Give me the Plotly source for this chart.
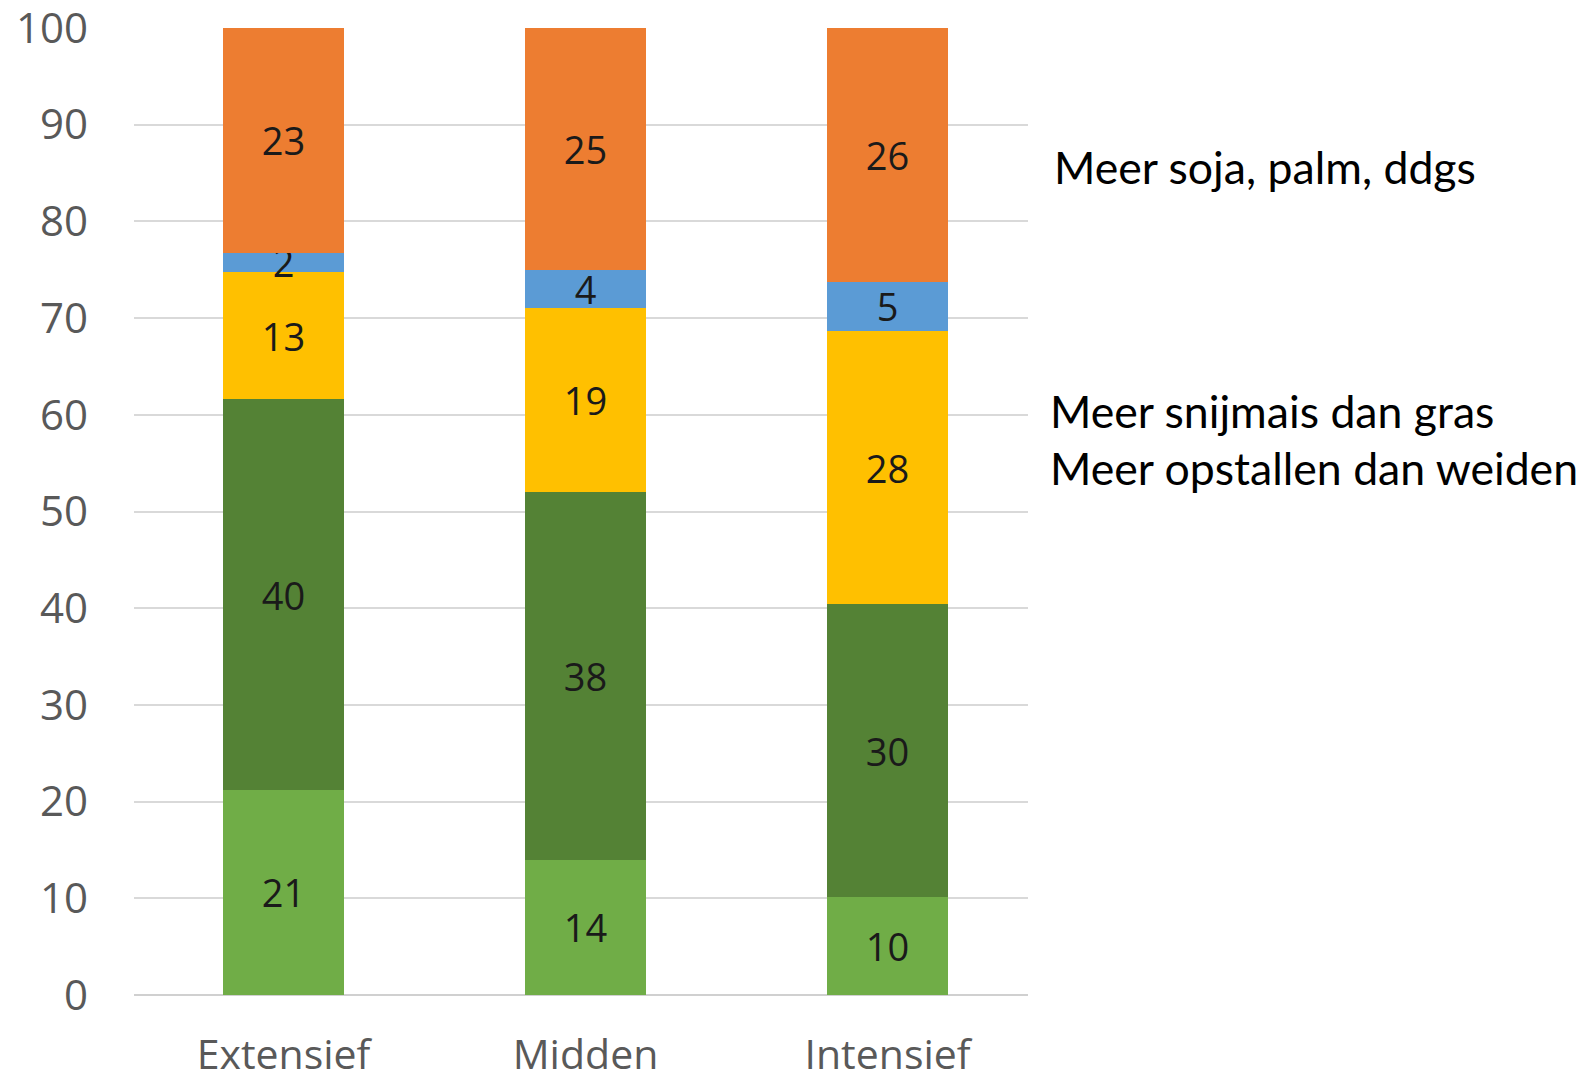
import plotly.graph_objects as go

# ---------- Data ----------
categories = ["Extensief", "Midden", "Intensief"]

series_names = ["Gras (licht)", "Gras (donker)", "Snijmais", "Overig", "Krachtvoer"]
light_green = [21, 14, 10]
dark_green = [40, 38, 30]
yellow = [13, 19, 28]
blue = [2, 4, 5]
orange = [23, 25, 26]

series_values = [light_green, dark_green, yellow, blue, orange]
series_colors = ["#70AD47", "#548235", "#FFC000", "#5B9BD5", "#ED7D31"]

y_ticks = list(range(0, 101, 10))

notes = ["Meer soja, palm, ddgs", "Meer snijmais dan gras", "Meer opstallen dan weiden"]

# ---------- Figure ----------
# page body has an 8px margin, so the plot area is shifted by that amount
W, H = 1589, 1076
ML, MR, MT, MB = 126, 569, 20, 89

fig = go.Figure()
for name, vals, col in zip(series_names, series_values, series_colors):
    fig.add_trace(go.Bar(
        x=categories,
        y=vals,
        name=name,
        marker=dict(color=col, line=dict(width=0)),
        text=[str(v) for v in vals],
        textposition="inside",
        insidetextanchor="middle",
        textangle=0,
        textfont=dict(family="Open Sans", size=38, color="#1a1a1a"),
        hoverinfo="skip",
    ))

fig.update_layout(
    width=W,
    height=H,
    barmode="stack",
    barnorm="percent",
    bargap=0.6,
    showlegend=False,
    plot_bgcolor="white",
    paper_bgcolor="white",
    margin=dict(l=ML, r=MR, t=MT, b=MB, autoexpand=False),
    uniformtext=dict(minsize=38, mode="show"),
    xaxis=dict(
        range=[-0.495, 2.465],
        showgrid=False,
        showline=False,
        ticks="",
        tickfont=dict(family="Open Sans", size=41, color="#595959"),
        ticklabelstandoff=32,
        ticklabeloverflow="allow",
    ),
    yaxis=dict(
        range=[0, 100],
        tickvals=y_ticks,
        showgrid=True,
        gridcolor="#D9D9D9",
        gridwidth=2,
        zeroline=True,
        zerolinecolor="#D0D0D0",
        zerolinewidth=2,
        showline=False,
        ticks="",
        tickfont=dict(family="Open Sans", size=42, color="#595959"),
        ticklabelstandoff=45,
        ticklabeloverflow="allow",
    ),
)

# Side notes, placed in paper coordinates to the right of the plot area
plot_h = H - MT - MB
plot_w = W - ML - MR
note_pos = [(1044, 159), (1040, 402), (1040, 460)]
for txt, (px, py) in zip(notes, note_pos):
    fig.add_annotation(
        text=txt,
        xref="paper", yref="paper",
        x=(px - ML) / plot_w,
        y=1 - (py - MT) / plot_h,
        xanchor="left", yanchor="middle",
        showarrow=False,
        font=dict(family="Lato", size=44.6, color="black"),
    )

fig.write_html("out.html")
